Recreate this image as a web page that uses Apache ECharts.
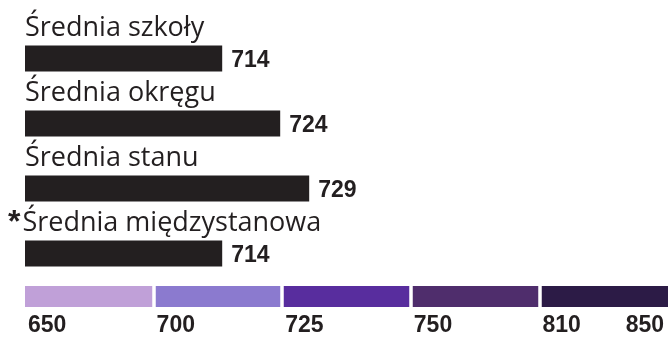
<!DOCTYPE html>
<html>
<head>
<meta charset="utf-8">
<script src="https://cdn.jsdelivr.net/npm/echarts@6/dist/echarts.min.js"></script>
<style>
  html, body { margin: 0; padding: 0; background: #ffffff; }
  #chart { width: 668px; height: 337px; }
</style>
</head>
<body>
<div id="chart"></div>
<script>
// Average scores compared against the colour-coded performance bands
const categories = ['Średnia szkoły', 'Średnia okręgu', 'Średnia stanu', 'Średnia międzystanowa'];
const scores = [714, 724, 729, 714];
const starred = [false, false, false, true];

// Performance band boundaries and their colours
const bandTicks = ['650', '700', '725', '750', '810', '850'];
const bandColors = ['#c0a0d8', '#8b7acf', '#582d9e', '#4f2d6c', '#2c1b46'];

const ink = '#231f20';
const chart = echarts.init(document.getElementById('chart'), null, { renderer: 'canvas' });

const bandSeries = bandColors.map((c) => ({
  type: 'bar',
  xAxisIndex: 1,
  yAxisIndex: 1,
  stack: 'bands',
  barWidth: 28,
  silent: true,
  itemStyle: { color: c },
  data: [1]
}));

chart.setOption({
  animation: false,
  grid: [
    { left: 25, width: 638, top: 26, height: 260 },
    { left: 25, right: 0, top: 286, height: 28 }
  ],
  xAxis: [
    { type: 'value', gridIndex: 0, min: 680, max: 790, show: false },
    {
      type: 'value', gridIndex: 1, min: 0, max: bandTicks.length - 1, interval: 1,
      z: 5,
      axisLine: { show: false },
      splitLine: { show: false },
      axisTick: {
        show: true, inside: true, length: 28,
        customValues: bandColors.slice(1).map((_, i) => i + 1),
        lineStyle: { color: '#ffffff', width: 3.5 }
      },
      axisLabel: {
        show: true,
        margin: 7,
        align: 'left',
        alignMaxLabel: 'right',
        padding: [0, 4, 0, 3],
        fontFamily: 'Liberation Sans',
        fontWeight: 'bold',
        fontSize: 23,
        color: ink,
        formatter: (v) => bandTicks[Math.round(v)]
      }
    }
  ],
  yAxis: [
    { type: 'category', gridIndex: 0, data: categories, inverse: true, show: false },
    { type: 'category', gridIndex: 1, data: ['bands'], show: false }
  ],
  series: [
    {
      type: 'bar',
      barWidth: 26,
      silent: true,
      itemStyle: { color: ink },
      label: {
        show: true,
        position: 'right',
        distance: 9,
        offset: [0, 2],
        formatter: '{c}',
        fontFamily: 'Liberation Sans',
        fontWeight: 'bold',
        fontSize: 23,
        color: ink
      },
      data: scores
    },
    {
      type: 'bar',
      barWidth: 26,
      barGap: '-100%',
      silent: true,
      itemStyle: { color: 'rgba(0,0,0,0)' },
      label: {
        show: true,
        align: 'left',
        verticalAlign: 'middle',
        fontFamily: 'Open Sans',
        fontSize: 27,
        color: ink,
        formatter: (p) => (starred[p.dataIndex] ? '{star|*}' : '') + categories[p.dataIndex],
        rich: {
          star: {
            fontFamily: 'Liberation Sans',
            fontWeight: 'bold',
            fontSize: 32,
            color: ink,
            padding: [0, 2, 0, 0]
          }
        }
      },
      data: scores.map((v, i) => ({
        value: v,
        label: { position: [starred[i] ? -17 : 0, -17] }
      }))
    },
    ...bandSeries
  ]
});
</script>
</body>
</html>
